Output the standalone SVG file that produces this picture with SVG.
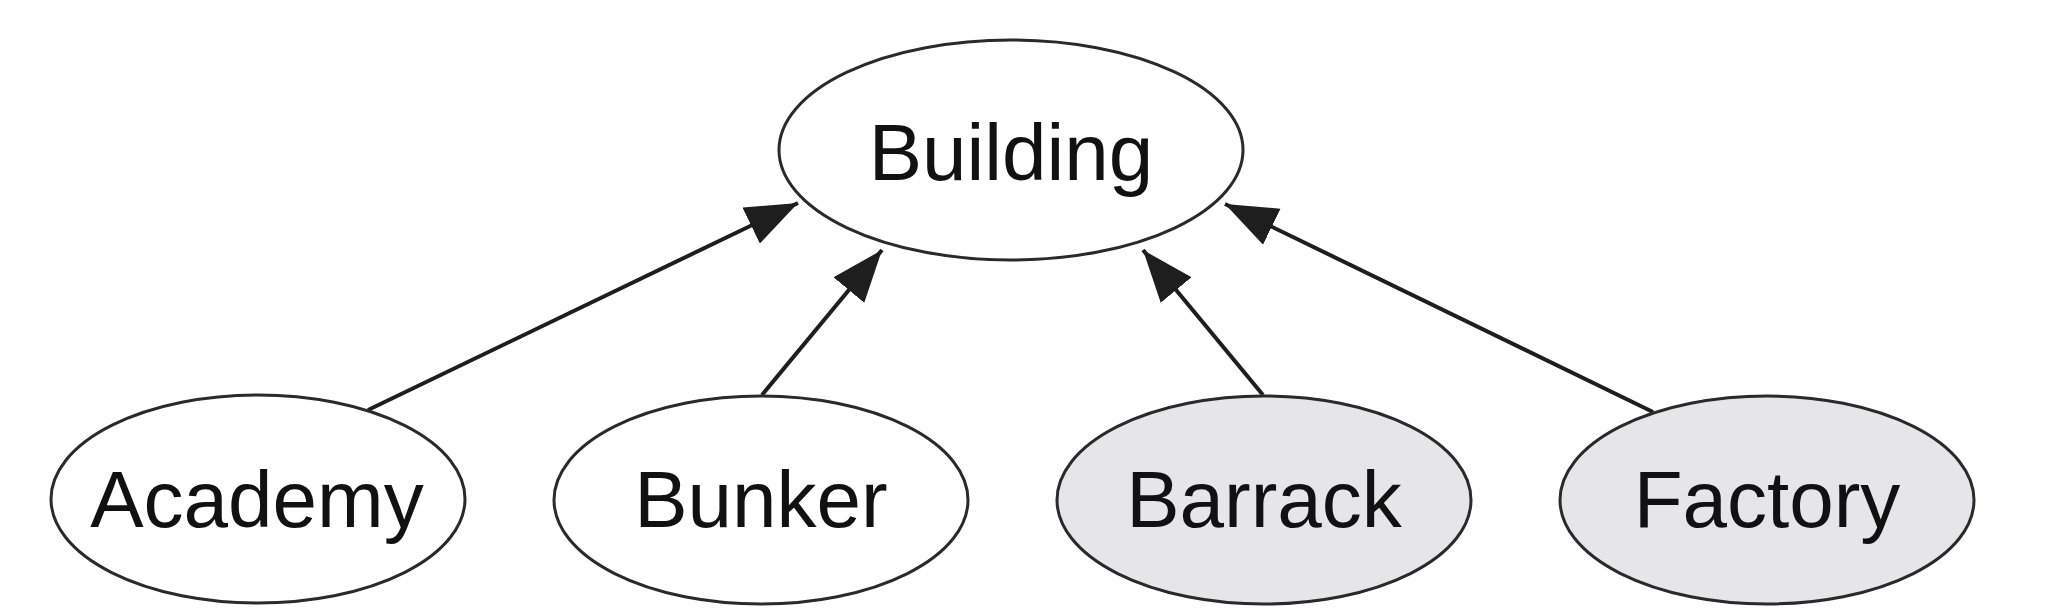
<svg xmlns="http://www.w3.org/2000/svg" width="2048" height="614" viewBox="0 0 2048 614">
<style>
.node ellipse{stroke:#2a2a2a;stroke-width:3}
.plain{fill:#ffffff}
.shaded{fill:#e5e5ea}
.label{font-family:"Liberation Sans",Arial,sans-serif;font-size:80px;fill:#111;text-anchor:middle}
.edge{stroke:#1e1e1e;stroke-width:4;fill:none;marker-end:url(#arrow)}
</style>
<defs>
<marker id="arrow" markerUnits="userSpaceOnUse" markerWidth="54" markerHeight="42" refX="52" refY="20" orient="auto">
<path d="M0,0 L52,20 L0,40 z" fill="#1e1e1e"/>
</marker>
</defs>
<rect width="2048" height="614" fill="#ffffff"/>
<g id="connectors">
<line class="edge" x1="368" y1="410" x2="798" y2="203"/>
<line class="edge" x1="762" y1="395" x2="882" y2="250"/>
<line class="edge" x1="1263" y1="395" x2="1143" y2="250"/>
<line class="edge" x1="1653" y1="412" x2="1225" y2="204"/>
</g>
<g id="building" class="node">
<ellipse class="plain" cx="1011" cy="150" rx="232" ry="110"/>
<text class="label" x="1011" y="180">Building</text>
</g>
<g id="academy" class="node">
<ellipse class="plain" cx="258" cy="499" rx="207" ry="104"/>
<text class="label" x="257" y="527">Academy</text>
</g>
<g id="bunker" class="node">
<ellipse class="plain" cx="761" cy="500" rx="207" ry="104"/>
<text class="label" x="761" y="527">Bunker</text>
</g>
<g id="barrack" class="node">
<ellipse class="shaded" cx="1264" cy="500" rx="207" ry="104"/>
<text class="label" x="1264" y="527">Barrack</text>
</g>
<g id="factory" class="node">
<ellipse class="shaded" cx="1767" cy="500" rx="207" ry="104"/>
<text class="label" x="1767" y="527">Factory</text>
</g>
</svg>
